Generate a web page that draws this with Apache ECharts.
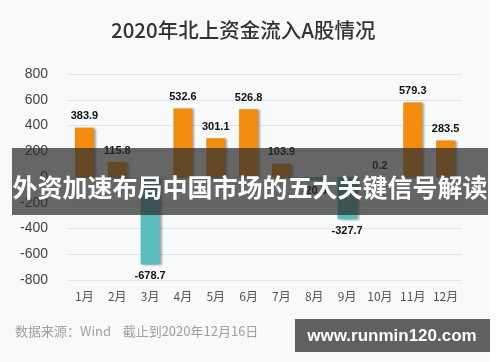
<!DOCTYPE html>
<html><head><meta charset="utf-8">
<script src="https://cdn.jsdelivr.net/npm/echarts@6/dist/echarts.min.js"></script>
<style>html,body{margin:0;padding:0;background:#fff}#c{width:500px;height:362px}</style>
</head><body><div id="c"></div>
<script>
const title = '2020年北上资金流入A股情况';
const months = ['1月','2月','3月','4月','5月','6月','7月','8月','9月','10月','11月','12月'];
const inflow = [383.9, 115.8, -678.7, 532.6, 301.1, 526.8, 103.9, -20.6, -327.7, 0.2, 579.3, 283.5];
const yTicks = [-800, -600, -400, -200, 0, 200, 400, 600, 800];
const source = '数据来源：Wind    截止到2020年12月16日';
const banner = '外资加速布局中国市场的五大关键信号解读';
const site = 'www.runmin120.com';

const chart = echarts.init(document.getElementById('c'));
const cjk = '"Noto Sans CJK SC", "Liberation Sans", sans-serif';
const arial = '"Liberation Sans", Arial, sans-serif';
chart.setOption({
  backgroundColor: '#fff',
  animation: false,
  graphic: [
    {type:'rect', shape:{x:0,y:0,width:490,height:362}, style:{fill:'#f8f9fb'}, z:-10, silent:true},
    {type:'text', left:15, top:325, style:{text: source, fill:'#a0a0a0', font:'13px '+cjk}, z:5},
    {type:'rect', shape:{x:12,y:148,width:476,height:67}, style:{fill:'rgba(45,45,45,0.72)'}, z:100},
    {type:'text', x:250, y:187, style:{text: banner, fill:'#fff', font:'bold 25px '+cjk, textAlign:'center', textVerticalAlign:'middle'}, z:101},
    {type:'rect', shape:{x:295,y:319,width:195,height:33}, style:{fill:'#5f6062'}, z:100},
    {type:'text', x:392, y:336, style:{text: site, fill:'#fff', font:'bold 17px '+arial, textAlign:'center', textVerticalAlign:'middle'}, z:101}
  ],
  title: {text: title, left: 106, top: 15, textStyle:{fontFamily: cjk, fontSize: 20.5, fontWeight: 500, color:'#333'}},
  grid: {left: 68, right: 38, top: 74, bottom: 82},
  xAxis: {type:'category', data: months,
    axisLine:{show:false}, axisTick:{show:false},
    axisLabel:{interval:0, color:'#555', fontFamily: cjk, fontSize: 12, margin: 10}},
  yAxis: {type:'value', min: yTicks[0], max: yTicks[yTicks.length-1], interval: 200,
    axisLine:{show:false}, axisTick:{show:false},
    splitLine:{lineStyle:{color:'#e2e4e8'}},
    axisLabel:{color:'#444', fontFamily: arial, fontSize: 14, margin: 20}},
  series: [{
    type:'bar', barWidth: 19,
    data: inflow.map(v => ({
      value: v,
      itemStyle: {color: v >= 0 ? '#f28c0f' : '#5bbcbc'},
      label: {position: v >= 0 ? 'top' : 'bottom'}
    })),
    itemStyle: {shadowColor:'rgba(0,0,0,0.35)', shadowBlur:2, shadowOffsetX:2, shadowOffsetY:1},
    label: {show:true, color:'#111', fontFamily: arial, fontWeight:'bold', fontSize: 11, distance: 6,
      formatter: p => p.value.toFixed(1)}
  }]
});
</script></body></html>
